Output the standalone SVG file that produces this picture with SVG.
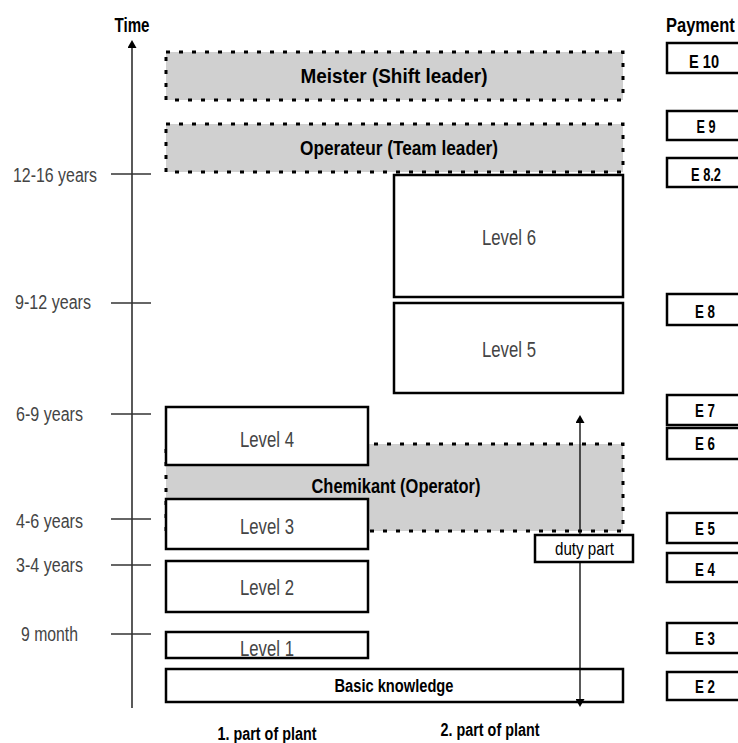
<svg xmlns="http://www.w3.org/2000/svg" width="738" height="743" viewBox="0 0 738 743">
<style>
.bg{fill:#fff}
.grey{fill:#d0d0d0;stroke:#000;stroke-width:3;stroke-dasharray:4 9}
.box{fill:#fff;stroke:#000;stroke-width:2.5}
.ax{stroke:#000;stroke-width:1.3;fill:none}
.tick{stroke:#333;stroke-width:1.6}
.tl{font-family:"Liberation Sans",Arial,sans-serif;font-size:20px;fill:#444}
.lv{font-family:"Liberation Sans",Arial,sans-serif;font-size:22px;fill:#444;text-anchor:middle}
.bt{font-family:"Liberation Sans",Arial,sans-serif;font-weight:bold;font-size:21px;fill:#000;text-anchor:middle}
.sb{font-family:"Liberation Sans",Arial,sans-serif;font-weight:bold;font-size:18px;fill:#000;text-anchor:middle}
.e{font-family:"Liberation Sans",Arial,sans-serif;font-weight:bold;font-size:19px;fill:#000;text-anchor:middle}
.dp{font-family:"Liberation Sans",Arial,sans-serif;font-size:19px;fill:#000;text-anchor:middle}
.pay{font-family:"Liberation Sans",Arial,sans-serif;font-weight:bold;font-size:16.5px;fill:#000}
</style>
<defs>
<marker id="ah" viewBox="0 0 10 10" refX="0" refY="5" markerWidth="8" markerHeight="9" markerUnits="userSpaceOnUse" orient="auto-start-reverse" preserveAspectRatio="none"><path d="M0,0 L10,5 L0,10 z" fill="#000"/></marker>
</defs>
<rect class="bg" x="0" y="0" width="738" height="743"/>

<g id="axis">
<line class="ax" x1="132" y1="708" x2="132" y2="48" marker-end="url(#ah)"/>
<text class="bt" x="132" y="32" textLength="35" lengthAdjust="spacingAndGlyphs">Time</text>
<line class="tick" x1="111" y1="174" x2="151" y2="174"/>
<line class="tick" x1="111" y1="303" x2="151" y2="303"/>
<line class="tick" x1="111" y1="414" x2="151" y2="414"/>
<line class="tick" x1="111" y1="519" x2="151" y2="519"/>
<line class="tick" x1="111" y1="565" x2="151" y2="565"/>
<line class="tick" x1="111" y1="634" x2="151" y2="634"/>
<text class="tl" x="13" y="182" textLength="84" lengthAdjust="spacingAndGlyphs">12-16 years</text>
<text class="tl" x="15" y="309" textLength="76" lengthAdjust="spacingAndGlyphs">9-12 years</text>
<text class="tl" x="16" y="421" textLength="67" lengthAdjust="spacingAndGlyphs">6-9 years</text>
<text class="tl" x="16" y="528" textLength="67" lengthAdjust="spacingAndGlyphs">4-6 years</text>
<text class="tl" x="16" y="572" textLength="67" lengthAdjust="spacingAndGlyphs">3-4 years</text>
<text class="tl" x="21" y="641" textLength="57" lengthAdjust="spacingAndGlyphs">9 month</text>
</g>

<g id="meister">
<rect class="grey" x="166" y="52" width="457" height="48"/>
<text class="bt" x="394" y="83" textLength="187" lengthAdjust="spacingAndGlyphs">Meister (Shift leader)</text>
</g>
<g id="operateur">
<rect class="grey" x="166" y="124" width="457" height="48"/>
<text class="bt" x="399" y="155" textLength="198" lengthAdjust="spacingAndGlyphs">Operateur (Team leader)</text>
</g>
<g id="chemikant">
<rect class="grey" x="166" y="444" width="457" height="87"/>
<text class="bt" x="396" y="493" textLength="169" lengthAdjust="spacingAndGlyphs">Chemikant (Operator)</text>
</g>

<g id="level6">
<rect class="box" x="394" y="175" width="229" height="122"/>
<text class="lv" x="509" y="245" textLength="54" lengthAdjust="spacingAndGlyphs">Level 6</text>
</g>
<g id="level5">
<rect class="box" x="394" y="303" width="229" height="90"/>
<text class="lv" x="509" y="357" textLength="54" lengthAdjust="spacingAndGlyphs">Level 5</text>
</g>
<g id="level4">
<rect class="box" x="166" y="407" width="202" height="58"/>
<text class="lv" x="267" y="447" textLength="54" lengthAdjust="spacingAndGlyphs">Level 4</text>
</g>
<g id="level3">
<rect class="box" x="166" y="499" width="202" height="50"/>
<text class="lv" x="267" y="534" textLength="54" lengthAdjust="spacingAndGlyphs">Level 3</text>
</g>
<g id="level2">
<rect class="box" x="166" y="561" width="202" height="51"/>
<text class="lv" x="267" y="595" textLength="54" lengthAdjust="spacingAndGlyphs">Level 2</text>
</g>
<g id="level1">
<rect class="box" x="166" y="632" width="202" height="26"/>
<text class="lv" x="267" y="656" textLength="54" lengthAdjust="spacingAndGlyphs">Level 1</text>
</g>
<g id="basic">
<rect class="box" x="166" y="669" width="457" height="33"/>
<text class="sb" x="394" y="692" textLength="119" lengthAdjust="spacingAndGlyphs">Basic  knowledge</text>
</g>

<g id="connectors">
<line class="ax" x1="580" y1="423" x2="580" y2="699" marker-start="url(#ah)" marker-end="url(#ah)"/>
</g>

<g id="duty">
<rect class="box" x="535" y="535" width="98" height="27"/>
<text class="dp" x="584.5" y="555" textLength="59" lengthAdjust="spacingAndGlyphs">duty part</text>
</g>

<g id="plant1"><text class="sb" x="267" y="740" textLength="99" lengthAdjust="spacingAndGlyphs">1. part of plant</text></g>
<g id="plant2"><text class="sb" x="490" y="736" textLength="99" lengthAdjust="spacingAndGlyphs">2. part of plant</text></g>

<g id="payment">
<text class="pay" transform="translate(666,32) scale(1,1.25)" x="0" y="0">Payment</text>
<g id="e10"><rect class="box" x="667" y="43" width="80" height="30"/><text class="e" x="704" y="68" textLength="30" lengthAdjust="spacingAndGlyphs">E 10</text></g>
<g id="e9"><rect class="box" x="667" y="111" width="80" height="29"/><text class="e" x="706" y="133" textLength="19" lengthAdjust="spacingAndGlyphs">E 9</text></g>
<g id="e82"><rect class="box" x="667" y="158" width="80" height="29"/><text class="e" x="706" y="181" textLength="30" lengthAdjust="spacingAndGlyphs">E 8.2</text></g>
<g id="e8"><rect class="box" x="667" y="294" width="80" height="31"/><text class="e" x="705" y="318" textLength="20" lengthAdjust="spacingAndGlyphs">E 8</text></g>
<g id="e7"><rect class="box" x="667" y="395" width="80" height="30"/><text class="e" x="705" y="417" textLength="20" lengthAdjust="spacingAndGlyphs">E 7</text></g>
<g id="e6"><rect class="box" x="667" y="428" width="80" height="31"/><text class="e" x="705" y="450" textLength="20" lengthAdjust="spacingAndGlyphs">E 6</text></g>
<g id="e5"><rect class="box" x="667" y="513" width="80" height="30"/><text class="e" x="705" y="535" textLength="20" lengthAdjust="spacingAndGlyphs">E 5</text></g>
<g id="e4"><rect class="box" x="667" y="553" width="80" height="29"/><text class="e" x="705" y="576" textLength="20" lengthAdjust="spacingAndGlyphs">E 4</text></g>
<g id="e3"><rect class="box" x="667" y="623" width="80" height="30"/><text class="e" x="705" y="645" textLength="20" lengthAdjust="spacingAndGlyphs">E 3</text></g>
<g id="e2"><rect class="box" x="667" y="672" width="80" height="28"/><text class="e" x="705" y="693" textLength="20" lengthAdjust="spacingAndGlyphs">E 2</text></g>
</g>
</svg>
